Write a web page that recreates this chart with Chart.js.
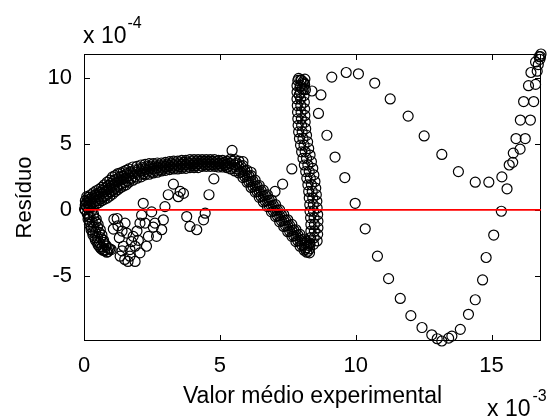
<!DOCTYPE html>
<html>
<head>
<meta charset="utf-8">
<script src="https://cdn.jsdelivr.net/npm/chart.js@4.4.1/dist/chart.umd.min.js"></script>
<style>
  html, body { margin: 0; padding: 0; background: #fff; }
  #wrap { width: 549px; height: 417px; }
</style>
</head>
<body>
<div id="wrap"><canvas id="residuos" width="549" height="417"></canvas></div>
<script>
// x em unidades de 10^-3, y (resíduo) em unidades de 10^-4

// trecho inicial, faixa densa (réplicas sobrepostas)
const xInicio     = [0.05,0.15,0.25,0.35,0.45,0.55,0.65,0.75,0.85,0.95,1.05,1.15,1.25,1.35,1.45,1.55,1.65,1.8,1.95,2.1,2.25,2.4,2.55,2.7,2.85,3.0,3.15,3.3,3.45,3.6,3.75,3.9,4.05,4.2,4.35,4.5,4.65,4.8,4.95,5.1,5.25];
const yInicioSup  = [0.7,0.95,1.15,1.3,1.45,1.55,1.7,1.9,2.1,2.25,2.5,2.6,2.75,2.8,2.9,3.0,3.1,3.25,3.3,3.4,3.45,3.5,3.5,3.55,3.55,3.6,3.65,3.7,3.7,3.75,3.75,3.8,3.8,3.8,3.8,3.8,3.8,3.8,3.75,3.75,3.7];
const yInicioMed  = [0.35,0.55,0.7,0.85,0.95,1.05,1.2,1.35,1.5,1.65,1.85,2.0,2.15,2.25,2.35,2.45,2.6,2.75,2.85,2.95,3.05,3.1,3.15,3.2,3.25,3.3,3.35,3.4,3.4,3.45,3.45,3.5,3.5,3.5,3.55,3.55,3.55,3.55,3.5,3.5,3.45];
const yInicioInf  = [0.0,0.15,0.25,0.4,0.45,0.55,0.7,0.8,0.9,1.05,1.2,1.4,1.55,1.7,1.8,1.9,2.1,2.25,2.4,2.5,2.65,2.7,2.8,2.85,2.95,3.0,3.05,3.1,3.1,3.15,3.15,3.2,3.2,3.2,3.3,3.3,3.3,3.3,3.25,3.25,3.2];
const xInicio2    = [0.1,0.2,0.3,0.4,0.5,0.6,0.7,0.8,0.9,1.0,1.1,1.2,1.3,1.4,1.5,1.6,1.72,1.87,2.02,2.17,2.32,2.47,2.62,2.77,2.92,3.07,3.22,3.37,3.52,3.67,3.82,3.97,4.12,4.27,4.42,4.57,4.72,4.87,5.02,5.17,5.32];
const yInicioSup2 = [0.6,0.8,0.98,1.12,1.24,1.35,1.5,1.68,1.86,2.02,2.22,2.34,2.48,2.56,2.66,2.76,2.88,3.02,3.1,3.2,3.27,3.32,3.34,3.39,3.41,3.46,3.51,3.55,3.57,3.6,3.62,3.65,3.65,3.67,3.68,3.68,3.68,3.66,3.63,3.6,3.55];
const yInicioInf2 = [0.22,0.38,0.5,0.64,0.72,0.83,0.98,1.1,1.22,1.38,1.56,1.72,1.87,1.99,2.09,2.2,2.38,2.52,2.64,2.74,2.86,2.92,2.99,3.04,3.11,3.16,3.21,3.25,3.27,3.3,3.32,3.35,3.35,3.38,3.43,3.43,3.43,3.42,3.38,3.35,3.3];

// descida até o mínimo perto de 8
const xQueda      = [5.4,5.55,5.7,5.85,6.0,6.15,6.3,6.45,6.6,6.75,6.9,7.05,7.2,7.35,7.5,7.65,7.8,7.95,8.1,8.2,8.3];
const yQuedaSup   = [3.85,3.8,3.7,3.35,3.0,2.6,2.25,1.85,1.5,1.15,0.75,0.4,0.0,-0.35,-0.75,-1.1,-1.5,-1.85,-2.2,-2.4,-2.5];
const yQuedaMed   = [3.5,3.4,3.25,2.9,2.55,2.15,1.8,1.4,1.05,0.7,0.3,-0.05,-0.45,-0.8,-1.2,-1.55,-1.95,-2.3,-2.65,-2.85,-2.95];
const yQuedaInf   = [3.1,2.95,2.8,2.45,2.1,1.7,1.35,0.95,0.6,0.25,-0.15,-0.5,-0.9,-1.25,-1.65,-2.0,-2.4,-2.75,-3.05,-3.2,-3.25];
const xQueda2     = [5.47,5.62,5.77,5.92,6.07,6.22,6.37,6.52,6.67,6.82,6.97,7.12,7.27,7.42,7.57,7.72,7.87,8.02,8.15,8.25];
const yQuedaSup2  = [3.67,3.55,3.3,2.96,2.58,2.2,1.83,1.46,1.1,0.73,0.35,-0.02,-0.39,-0.77,-1.17,-1.52,-1.89,-2.24,-2.53,-2.68];
const yQuedaInf2  = [3.23,3.11,2.86,2.52,2.14,1.76,1.39,1.02,0.66,0.29,-0.09,-0.46,-0.83,-1.21,-1.61,-1.96,-2.33,-2.68,-2.97,-3.12];

// subida quase vertical
const ySubida     = [-2.6,-2.1,-1.6,-1.1,-0.6,-0.1,0.4,0.9,1.4,1.9,2.4,2.9,3.4,3.9,4.4,4.9,5.4,5.9,6.4,6.9,7.4,7.9,8.4,8.9,9.4,9.8];
const ySubidaDir  = [-2.35,-1.85,-1.35,-0.85,-0.35,0.15,0.65,1.15,1.65,2.15,2.65,3.15,3.65,4.15,4.65,5.15,5.65,6.15,6.65,7.15,7.65,8.15,8.65,9.15,9.6,9.9];
const xSubidaEsq  = [8.32,8.34,8.35,8.35,8.34,8.32,8.31,8.29,8.27,8.24,8.2,8.16,8.11,8.06,8.01,7.97,7.93,7.9,7.88,7.87,7.86,7.85,7.84,7.84,7.84,7.87];
const xSubidaMed  = [8.45,8.47,8.48,8.48,8.47,8.45,8.44,8.42,8.4,8.37,8.33,8.29,8.24,8.19,8.14,8.1,8.06,8.03,8.01,8.0,7.99,7.98,7.97,7.97,7.97,8.0];
const xSubidaDir  = [8.58,8.6,8.61,8.61,8.6,8.58,8.57,8.55,8.53,8.5,8.46,8.42,8.37,8.32,8.27,8.23,8.19,8.16,8.14,8.13,8.12,8.11,8.1,8.1,8.1,8.13];
// aglomerado no topo da subida
const xTopo = [7.9,7.98,8.06,8.12,7.95,8.03,8.15,7.92];
const yTopo = [9.95,9.85,9.7,9.5,9.3,9.15,9.1,8.7];

// ramo negativo junto da origem
const xBaixoEsq   = [0.12,0.15,0.2,0.26,0.33,0.42,0.52,0.63,0.76];
const yBaixoEsq   = [-0.3,-0.7,-1.1,-1.5,-1.9,-2.3,-2.65,-2.95,-3.1];
const xBaixoMed   = [0.02,0.05,0.1,0.22,0.3,0.36,0.43,0.5,0.57,0.66,0.76,0.88];
const yBaixoMed   = [0.05,0.4,1.0,-0.5,-0.9,-1.3,-1.7,-2.1,-2.5,-2.8,-3.05,-3.15];
const xBaixoDir   = [0.35,0.45,0.52,0.6,0.66,0.72,0.8,0.9,1.0];
const yBaixoDir   = [-0.3,-0.7,-1.1,-1.5,-1.9,-2.3,-2.65,-2.9,-3.0];
const xBaixo2     = [0.16,0.2,0.26,0.32,0.4,0.48,0.58,0.7,0.84];
const yBaixo2     = [-0.5,-0.9,-1.3,-1.7,-2.1,-2.45,-2.8,-3.05,-3.2];
const xBaixo3     = [0.28,0.36,0.44,0.5,0.56,0.62,0.72,0.82,0.95];
const yBaixo3     = [-0.1,-0.5,-0.9,-1.3,-1.7,-2.1,-2.45,-2.75,-2.95];

// série oscilante (pontos mais espaçados)
const xOsc = [1.1,1.08,1.3,1.45,1.33,1.5,1.69,1.88,1.69,1.81,1.88,2.06,2.3,1.57,1.51,1.22,2.06,2.25,2.12,2.18,2.49,2.61,2.55,2.37,2.67,2.86,2.92,2.98,3.1,3.29,3.47,3.54,3.66,3.78,3.9,4.15,4.4,4.46,1.25,1.4,1.75,1.95,1.4,1.62,2.0];
const yOsc = [-0.7,-1.45,-2.1,-2.75,-3.5,-3.75,-3.5,-3.9,-3.0,-2.0,-2.75,-3.25,-2.75,-1.75,-1.0,-0.65,-1.0,-1.0,-0.4,0.5,-0.15,-1.0,-1.3,-2.0,-2.0,-1.5,-0.75,0.25,1.15,1.95,1.0,1.4,1.25,-0.5,-1.25,-1.5,-0.75,-0.25,-1.2,-1.6,-2.4,-1.6,-3.1,-3.9,-2.3];

// série do arco superior
const xArco = [4.6,4.78,5.19,5.45,5.85,6.15,7.03,7.31,7.65,8.39,8.72,9.12,9.65,10.1,10.7,11.27,11.93,12.52,13.17,13.78,14.4,14.9,15.38,15.65,15.8,15.9,16.06,16.18,16.36,16.45,16.62,16.75];
const yArco = [1.15,2.35,3.4,4.5,3.65,2.85,1.4,1.95,3.1,9.0,8.7,10.05,10.4,10.3,9.6,8.4,7.1,5.6,4.2,2.9,2.1,2.1,2.5,3.4,4.3,5.4,6.8,8.2,9.4,10.4,11.2,11.6];

// série do vale inferior
const xVale = [8.63,8.94,9.24,9.6,9.98,10.35,10.8,11.21,11.64,12.03,12.44,12.8,13.0,13.17,13.42,13.54,13.85,14.15,14.4,14.67,14.8,15.08,15.36,15.57,15.78,16.05,16.24,16.43,16.55,16.62,16.68,16.78,16.82,16.72,16.8];
const yVale = [7.3,5.65,4.0,2.45,0.5,-1.43,-3.5,-5.2,-6.7,-8.0,-8.9,-9.45,-9.75,-9.92,-9.7,-9.55,-9.04,-7.9,-6.8,-5.3,-3.6,-1.9,-0.1,1.6,3.6,4.6,5.4,6.8,8.2,9.5,10.5,11.4,11.8,11.0,11.6];

// linha de resíduo zero
const xZero = [0, 16.82];
const yZero = [0, 0];

const FONTE = '"Liberation Sans", Arial, Helvetica, sans-serif';

function pontos(xs, ys) {
  return xs.map((x, i) => ({ x: x, y: ys[i] }));
}

function serie(xs, ys) {
  return {
    type: 'scatter',
    data: pontos(xs, ys),
    showLine: false,
    pointStyle: 'circle',
    pointRadius: 5,
    pointBorderWidth: 1.2,
    borderColor: '#000',
    backgroundColor: 'rgba(0,0,0,0)',
    pointBorderColor: '#000',
    pointBackgroundColor: 'rgba(0,0,0,0)',
    clip: false
  };
}

// caixa dos eixos com marcas para dentro + multiplicadores
const moldura = {
  id: 'moldura',
  beforeDatasetsDraw(chart) {
    const { ctx, chartArea: a, scales: { x, y } } = chart;
    ctx.save();
    ctx.strokeStyle = '#000';
    ctx.lineWidth = 1;
    ctx.strokeRect(a.left + 0.5, a.top + 0.5, a.right - a.left - 1, a.bottom - a.top - 1);
    ctx.beginPath();
    x.ticks.forEach(t => {
      const px = Math.round(x.getPixelForValue(t.value)) + 0.5;
      ctx.moveTo(px, a.bottom); ctx.lineTo(px, a.bottom - 6);
      ctx.moveTo(px, a.top); ctx.lineTo(px, a.top + 6);
    });
    y.ticks.forEach(t => {
      const py = Math.round(y.getPixelForValue(t.value)) + 0.5;
      ctx.moveTo(a.left, py); ctx.lineTo(a.left + 6, py);
      ctx.moveTo(a.right, py); ctx.lineTo(a.right - 6, py);
    });
    ctx.stroke();
    ctx.restore();
  },
  afterDraw(chart) {
    const { ctx, chartArea: a } = chart;
    ctx.save();
    ctx.fillStyle = '#000';
    ctx.textBaseline = 'alphabetic';
    ctx.textAlign = 'left';
    // y: x 10^-4
    ctx.font = '23px ' + FONTE;
    ctx.fillText('x 10', a.left - 1, a.top - 11);
    let w = ctx.measureText('x 10').width;
    ctx.font = '16px ' + FONTE;
    ctx.fillText('-4', a.left + w, a.top - 26);
    // x: x 10^-3
    ctx.font = '23px ' + FONTE;
    ctx.fillText('x 10', a.right - 54, a.bottom + 75);
    w = ctx.measureText('x 10').width;
    ctx.font = '16px ' + FONTE;
    ctx.fillText('-3', a.right - 54 + w + 2, a.bottom + 60);
    ctx.restore();
  }
};

const conjuntos = [
  [xBaixoEsq, yBaixoEsq], [xBaixoMed, yBaixoMed], [xBaixoDir, yBaixoDir],
  [xBaixo2, yBaixo2], [xBaixo3, yBaixo3],
  [xInicio, yInicioSup], [xInicio, yInicioMed], [xInicio, yInicioInf],
  [xInicio2, yInicioSup2], [xInicio2, yInicioInf2],
  [xQueda, yQuedaSup], [xQueda, yQuedaMed], [xQueda, yQuedaInf],
  [xQueda2, yQuedaSup2], [xQueda2, yQuedaInf2],
  [xSubidaEsq, ySubida], [xSubidaMed, ySubida], [xSubidaDir, ySubidaDir],
  [xTopo, yTopo],
  [xOsc, yOsc], [xArco, yArco], [xVale, yVale]
];

new Chart(document.getElementById('residuos'), {
  type: 'scatter',
  data: {
    datasets: [
      {
        type: 'line',
        data: pontos(xZero, yZero),
        borderColor: '#ff0000',
        borderWidth: 1.6,
        pointRadius: 0,
        fill: false
      }
    ].concat(conjuntos.map(c => serie(c[0], c[1])))
  },
  options: {
    responsive: false,
    animation: false,
    devicePixelRatio: 1,
    layout: { padding: { top: 54, right: 8, left: 0, bottom: 0 } },
    plugins: { legend: { display: false }, tooltip: { enabled: false } },
    scales: {
      x: {
        type: 'linear',
        min: 0,
        max: 16.82,
        grid: { display: false, drawTicks: false },
        border: { display: false },
        ticks: {
          stepSize: 5,
          includeBounds: false,
          padding: 12,
          color: '#000',
          font: { family: FONTE, size: 22 },
          maxRotation: 0
        },
        title: {
          display: true,
          text: 'Valor médio experimental',
          color: '#000',
          font: { family: FONTE, size: 23 },
          padding: { top: 0, bottom: 7 }
        },
        afterFit(scale) { scale.height = 76; }
      },
      y: {
        type: 'linear',
        min: -9.92,
        max: 11.8,
        grid: { display: false, drawTicks: false },
        border: { display: false },
        ticks: {
          stepSize: 5,
          includeBounds: false,
          padding: 12,
          color: '#000',
          font: { family: FONTE, size: 22 }
        },
        title: {
          display: true,
          text: 'Resíduo',
          color: '#000',
          font: { family: FONTE, size: 22 },
          padding: { top: 12, bottom: 0 }
        },
        afterFit(scale) { scale.width = 84; }
      }
    }
  },
  plugins: [moldura]
});
</script>
</body>
</html>
